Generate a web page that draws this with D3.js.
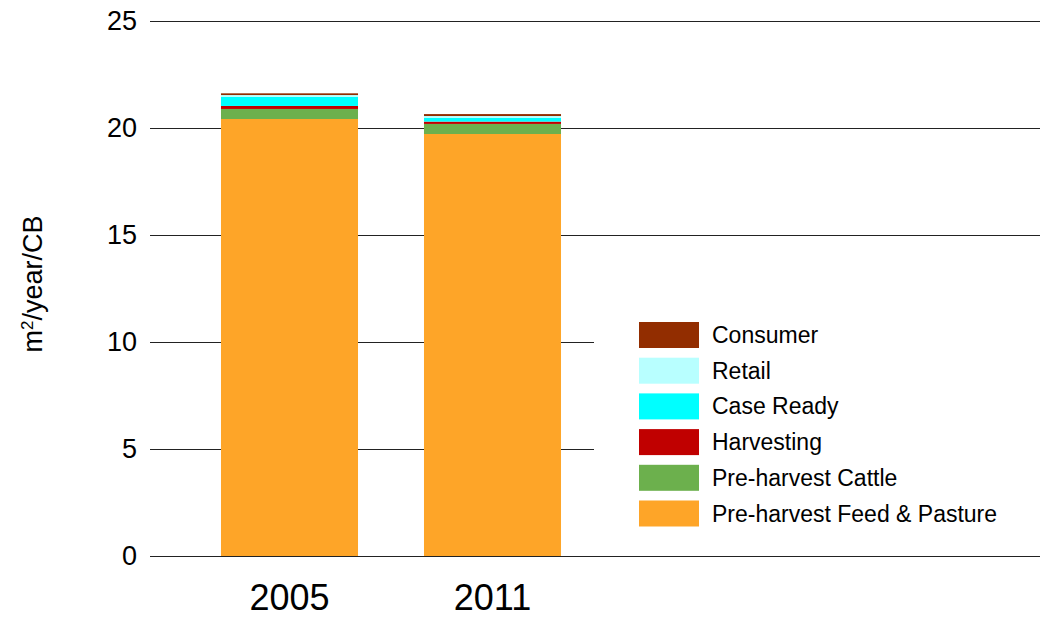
<!DOCTYPE html>
<html>
<head>
<meta charset="utf-8">
<script src="https://cdn.jsdelivr.net/npm/d3@7"></script>
<style>
  body { margin: 0; background: #fff; }
  svg { display: block; font-family: Helvetica, "Liberation Sans", Arial, sans-serif; }
</style>
</head>
<body>
<div id="vis"></div>
<script>
// data
const YEARS = ["2005", "2011"];
const STAGES = ["Pre-harvest Feed & Pasture", "Pre-harvest Cattle", "Harvesting", "Case Ready", "Retail", "Consumer"];
const FEED = [20.42, 19.72];
const CATTLE = [0.47, 0.47];
const HARVESTING = [0.14, 0.11];
const CASE_READY = [0.43, 0.17];
const RETAIL = [0.08, 0.09];
const CONSUMER = [0.08, 0.09];
const Y_TICKS = [0, 5, 10, 15, 20, 25];
const COLORS = ["#FEA528", "#6CB04D", "#C00000", "#00FFFF", "#B8FFFF", "#922D00"];

const FRAME_WIDTH = 1040;
const FRAME_HEIGHT = 618;
const MARGINS = {left: 150, right: 0, top: 21, bottom: 62};

const FRAME = d3.select("#vis")
  .append("svg")
  .attr("width", FRAME_WIDTH)
  .attr("height", FRAME_HEIGHT);

// build rows for stacking
const rows = YEARS.map((y, i) => ({
  year: y,
  "Pre-harvest Feed & Pasture": FEED[i],
  "Pre-harvest Cattle": CATTLE[i],
  "Harvesting": HARVESTING[i],
  "Case Ready": CASE_READY[i],
  "Retail": RETAIL[i],
  "Consumer": CONSUMER[i]
}));
const stacked = d3.stack().keys(STAGES)(rows);

const Y_SCALE = d3.scaleLinear()
  .domain([0, 25])
  .range([FRAME_HEIGHT - MARGINS.bottom, MARGINS.top]);

const X_SCALE = d3.scaleBand()
  .domain(YEARS)
  .range([188, 594])
  .paddingInner(0.325)
  .paddingOuter(0.1625);

const COLOR = d3.scaleOrdinal().domain(STAGES).range(COLORS);

// gridlines + tick labels
const yAxis = FRAME.append("g")
  .attr("transform", "translate(" + MARGINS.left + ",0)")
  .call(d3.axisLeft(Y_SCALE).tickValues(Y_TICKS)
    .tickSize(-(FRAME_WIDTH - MARGINS.left)).tickPadding(13));
yAxis.select(".domain").remove();
yAxis.selectAll(".tick line").attr("stroke", "#222").attr("stroke-width", 1);
yAxis.selectAll(".tick text")
  .attr("font-size", "27px")
  .attr("fill", "#000")
  .style("font-family", "Helvetica, 'Liberation Sans', Arial, sans-serif");

// bars
FRAME.append("g")
  .selectAll("g")
  .data(stacked)
  .enter()
  .append("g")
  .attr("fill", (d) => COLOR(d.key))
  .selectAll("rect")
  .data((d) => d)
  .enter()
  .append("rect")
  .attr("x", (d) => X_SCALE(d.data.year))
  .attr("width", X_SCALE.bandwidth())
  .attr("y", (d) => Y_SCALE(d[1]))
  .attr("height", (d) => Y_SCALE(d[0]) - Y_SCALE(d[1]));

// year labels
FRAME.append("g")
  .selectAll("text")
  .data(YEARS)
  .enter()
  .append("text")
  .attr("x", (d) => X_SCALE(d) + X_SCALE.bandwidth() / 2)
  .attr("y", 610)
  .attr("text-anchor", "middle")
  .attr("font-size", "36px")
  .text((d) => d);

// y axis title
const title = FRAME.append("text")
  .attr("transform", "translate(42,284) rotate(-90)")
  .attr("text-anchor", "middle")
  .attr("font-size", "27px");
title.append("tspan").text("m");
title.append("tspan").attr("dy", -9).attr("font-size", "17px").text("2");
title.append("tspan").attr("dy", 9).text("/year/CB");

// legend (white box hides gridlines behind it)
const LEG_X = 639, LEG_Y = 322, LEG_STEP = 35.7;
const legend = FRAME.append("g");
legend.append("rect")
  .attr("x", 594).attr("y", 300)
  .attr("width", FRAME_WIDTH - 594).attr("height", 245)
  .attr("fill", "#fff");
const legendOrder = STAGES.slice().reverse();
const items = legend.selectAll("g.item")
  .data(legendOrder)
  .enter()
  .append("g")
  .attr("class", "item")
  .attr("transform", (d, i) => "translate(" + LEG_X + "," + (LEG_Y + i * LEG_STEP) + ")");
items.append("rect")
  .attr("width", 60)
  .attr("height", 26)
  .attr("fill", (d) => COLOR(d));
items.append("text")
  .attr("x", 73)
  .attr("y", 21)
  .attr("font-size", "23px")
  .text((d) => d);
</script>
</body>
</html>
